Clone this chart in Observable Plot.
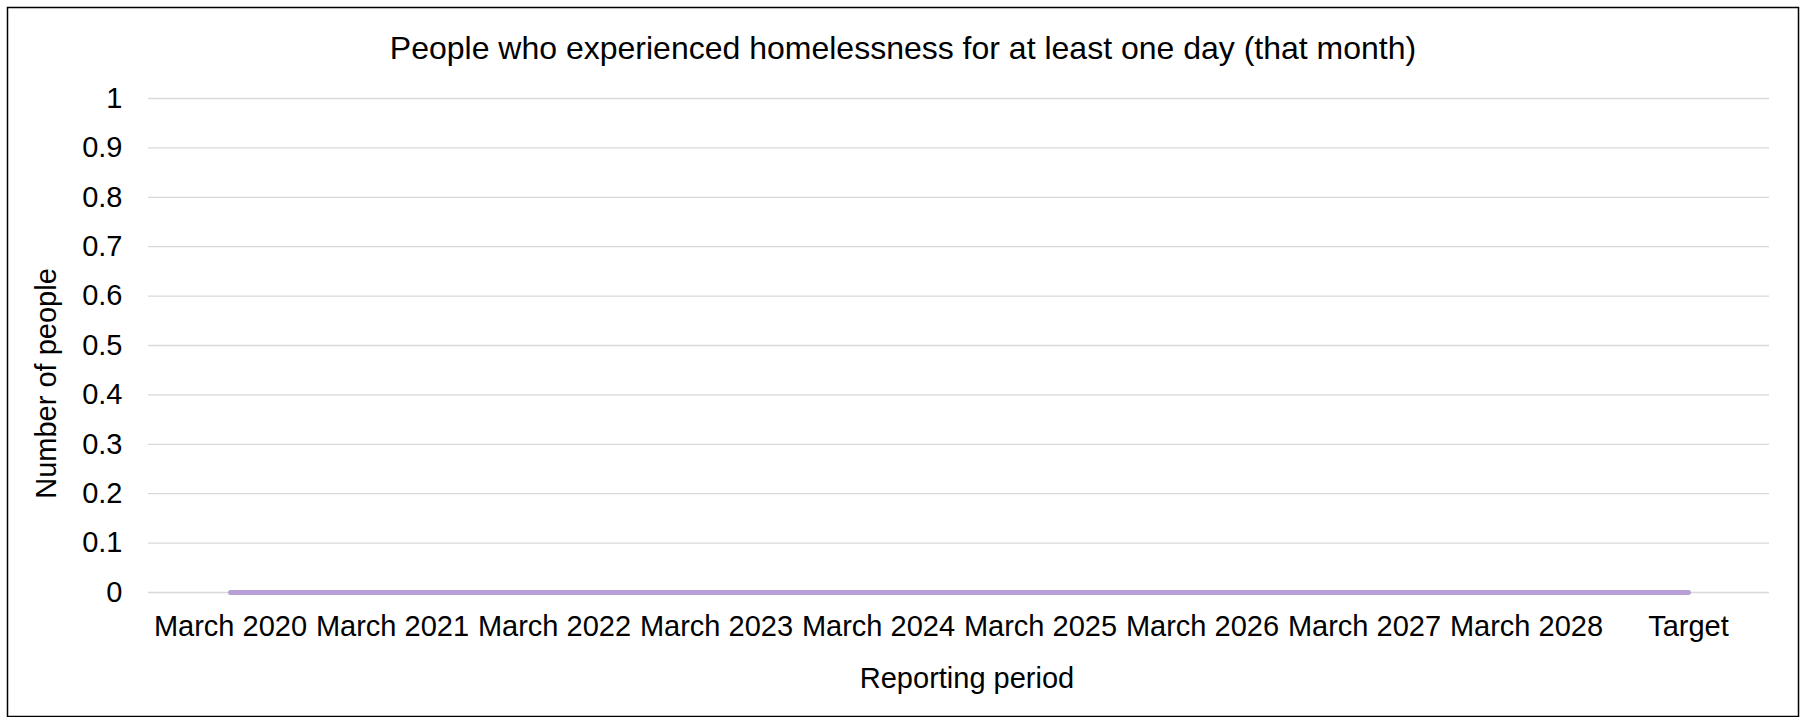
<!DOCTYPE html>
<html>
<head>
<meta charset="utf-8">
<script src="https://cdn.jsdelivr.net/npm/d3@7"></script>
<script src="https://cdn.jsdelivr.net/npm/@observablehq/plot@0.6"></script>
<style>
  html, body { margin: 0; padding: 0; background: #fff; }
</style>
</head>
<body>
<div id="chart"></div>
<script>
const chartTitle = "People who experienced homelessness for at least one day (that month)";
const xTitle = "Reporting period";
const yTitle = "Number of people";
const periods = ["March 2020", "March 2021", "March 2022", "March 2023", "March 2024",
                 "March 2025", "March 2026", "March 2027", "March 2028", "Target"];
const values = [0, 0, 0, 0, 0, 0, 0, 0, 0, 0];
const yTicks = [0, 0.1, 0.2, 0.3, 0.4, 0.5, 0.6, 0.7, 0.8, 0.9, 1];

const data = periods.map((p, i) => ({period: p, value: values[i]}));
const FS = 29;
const TFS = 32;

const chart = Plot.plot({
  width: 1810,
  height: 717,
  marginLeft: 148,
  marginRight: 41,
  marginTop: 98,
  marginBottom: 125,
  style: {fontFamily: "'Liberation Sans', Arial, sans-serif", color: "#000", background: "#fff"},
  x: {type: "point", domain: periods, padding: 0.5, label: null},
  y: {domain: [0, 1], label: null},
  marks: [
    Plot.frame({stroke: "#000", strokeWidth: 1.5, insetLeft: -141, insetTop: -91, insetRight: -29, insetBottom: -124}),
    Plot.ruleY(yTicks, {stroke: "#d9d9d9", strokeWidth: 1.3}),
    Plot.axisY({ticks: yTicks, tickSize: 0, tickPadding: 26, fontSize: FS, tickFormat: d => d3.format("~g")(d), label: null}),
    Plot.axisX({tickSize: 0, tickPadding: 23, fontSize: FS, label: null}),
    Plot.lineY(data, {x: "period", y: "value", stroke: "#b7a0d6", strokeWidth: 5, strokeLinecap: "round"}),
    Plot.text([chartTitle], {frameAnchor: "top", textAnchor: "middle", dx: -56, dy: -50, fontSize: TFS, lineAnchor: "middle", fill: "#000"}),
    Plot.text([yTitle], {frameAnchor: "left", textAnchor: "middle", rotate: -90, dx: -102, dy: 38, fontSize: FS, lineAnchor: "middle", fill: "#000"}),
    Plot.text([xTitle], {frameAnchor: "bottom", textAnchor: "middle", dx: 8, dy: 86, fontSize: FS, lineAnchor: "middle", fill: "#000"})
  ]
});
document.getElementById("chart").appendChild(chart);
</script>
</body>
</html>
